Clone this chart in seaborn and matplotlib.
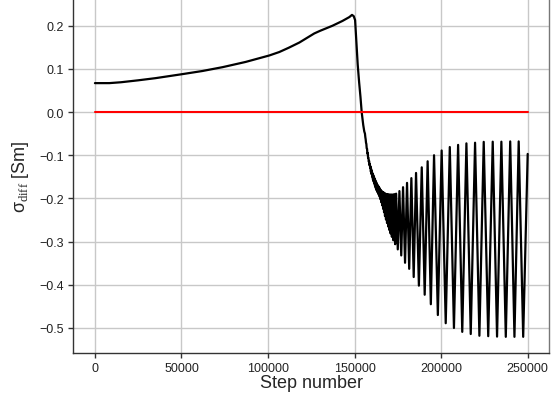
import matplotlib
matplotlib.use("Agg")
import matplotlib.pyplot as plt
import numpy as np
import pandas as pd
import seaborn as sns

# ---- data ----
rise_steps = [0, 8300, 15000, 25000, 35000, 50000, 62000, 73800, 87000, 100700,
              106500, 112000, 118100, 123000, 126700, 130000, 137300, 143000,
              147000, 148500, 149500, 150300, 151000, 151800, 152600, 153400,
              154100, 155000, 155600]
rise_values = [0.067, 0.067, 0.069, 0.0735, 0.0785, 0.0875, 0.095, 0.104, 0.116, 0.131,
               0.139, 0.149, 0.161, 0.173, 0.182, 0.188, 0.200, 0.211,
               0.220, 0.225, 0.222, 0.213, 0.165, 0.110, 0.070, 0.035,
               0.0, -0.030, -0.045]

peak_steps = [156000, 156400, 156800, 157200, 157600, 158000, 158400, 158800, 159200,
              159600, 160000, 160400, 160800, 161200, 161600, 162000, 162450, 162900,
              163350, 163800, 164250, 164700, 165200, 165700, 166200, 166750, 167300,
              167850, 168450, 169050, 169700, 170400, 171150, 171950, 172900, 174000,
              175900, 178000, 180300, 182800, 185500, 188800, 192200, 195900, 200300,
              205000, 209800, 214600, 219600, 224600, 229800, 234800, 239900, 244800]
peak_values = [-0.050, -0.063, -0.074, -0.085, -0.095, -0.106, -0.113, -0.120, -0.126,
               -0.132, -0.137, -0.142, -0.146, -0.150, -0.154, -0.158, -0.162, -0.166,
               -0.169, -0.172, -0.175, -0.178, -0.181, -0.183, -0.185, -0.186, -0.188,
               -0.189, -0.190, -0.190, -0.191, -0.191, -0.191, -0.191, -0.190, -0.189,
               -0.183, -0.174, -0.164, -0.153, -0.141, -0.128, -0.114, -0.100, -0.089,
               -0.081, -0.076, -0.0725, -0.071, -0.069, -0.0686, -0.0686, -0.068, -0.068]

trough_steps = [156200, 156600, 157000, 157400, 157800, 158200, 158600, 159000, 159400,
                159800, 160200, 160600, 161000, 161400, 161800, 162225, 162675, 163125,
                163575, 164025, 164475, 164950, 165450, 165950, 166475, 167025, 167575,
                168150, 168750, 169375, 170050, 170775, 171550, 172425, 173450, 174950,
                176950, 179150, 181550, 184150, 187150, 190500, 194050, 198100, 202650,
                207400, 212200, 217100, 222100, 227200, 232300, 237350, 242350, 247400]
trough_values = [-0.058, -0.071, -0.084, -0.096, -0.106, -0.115, -0.123, -0.130, -0.138,
                 -0.144, -0.150, -0.156, -0.161, -0.166, -0.171, -0.176, -0.181, -0.185,
                 -0.188, -0.192, -0.196, -0.202, -0.209, -0.216, -0.224, -0.232, -0.241,
                 -0.249, -0.257, -0.265, -0.273, -0.281, -0.289, -0.297, -0.306, -0.318,
                 -0.332, -0.349, -0.363, -0.382, -0.402, -0.423, -0.445, -0.470, -0.489,
                 -0.500, -0.509, -0.514, -0.518, -0.519, -0.520, -0.5205, -0.5205, -0.5205]

end_step = 250000
end_value = -0.097

ref_steps = [0, 250000]
ref_values = [0.0, 0.0]

x_ticks = [0, 50000, 100000, 150000, 200000, 250000]
y_ticks = [-0.5, -0.4, -0.3, -0.2, -0.1, 0.0, 0.1, 0.2]

# ---- assemble series ----
steps = list(rise_steps)
vals = list(rise_values)
for ps, pv, ts, tv in zip(peak_steps, peak_values, trough_steps, trough_values):
    steps += [ps, ts]
    vals += [pv, tv]
steps.append(end_step)
vals.append(end_value)
df = pd.DataFrame({"step": steps, "sigma": vals})
ref = pd.DataFrame({"step": ref_steps, "sigma": ref_values})

# ---- style ----
sns.set_theme(style="whitegrid")
plt.rcParams["font.family"] = ["Liberation Sans", "DejaVu Sans"]
plt.rcParams["mathtext.fontset"] = "custom"
plt.rcParams["mathtext.rm"] = "Liberation Serif"
plt.rcParams["mathtext.it"] = "Liberation Sans"
plt.rcParams["mathtext.sf"] = "Liberation Sans"
plt.rcParams["axes.unicode_minus"] = True

fig = plt.figure(figsize=(5.59, 4.02), dpi=100)
ax = fig.add_axes([0.1311, 0.1201, 0.9827 - 0.1311, 1.0 - 0.1201])

sns.lineplot(data=df, x="step", y="sigma", ax=ax, color="black", linewidth=1.6,
             estimator=None, sort=False)
sns.lineplot(data=ref, x="step", y="sigma", ax=ax, color="#ff0000", linewidth=1.5,
             estimator=None, sort=False)

ax.set_xlim(-12500, 262500)
ax.set_ylim(-0.5573, 0.2618)
ax.set_xticks(x_ticks)
ax.set_xticklabels([str(t) for t in x_ticks])
ax.set_yticks(y_ticks)
ax.set_yticklabels([f"{t:.1f}".replace("-", "\u2212") for t in y_ticks])

ax.grid(True, color="#c8c8c8", linewidth=1.0)
ax.set_facecolor("white")
for side in ["left", "bottom", "right"]:
    ax.spines[side].set_visible(True)
    ax.spines[side].set_color("#333333")
    ax.spines[side].set_linewidth(1.0)
ax.spines["right"].set_color("#777777")
ax.spines["top"].set_visible(False)
ax.tick_params(axis="both", which="major", direction="out", length=3.5, width=1.0,
               color="#333333", labelsize=9, labelcolor="#222222",
               bottom=True, left=True, pad=3)

ax.set_xlabel("Step number", fontsize=13, labelpad=0)
ax.set_ylabel(r"$\sigma_{\mathrm{diff}}$ [Sm]", fontsize=13, labelpad=6)

fig.savefig("out.png", dpi=100)
